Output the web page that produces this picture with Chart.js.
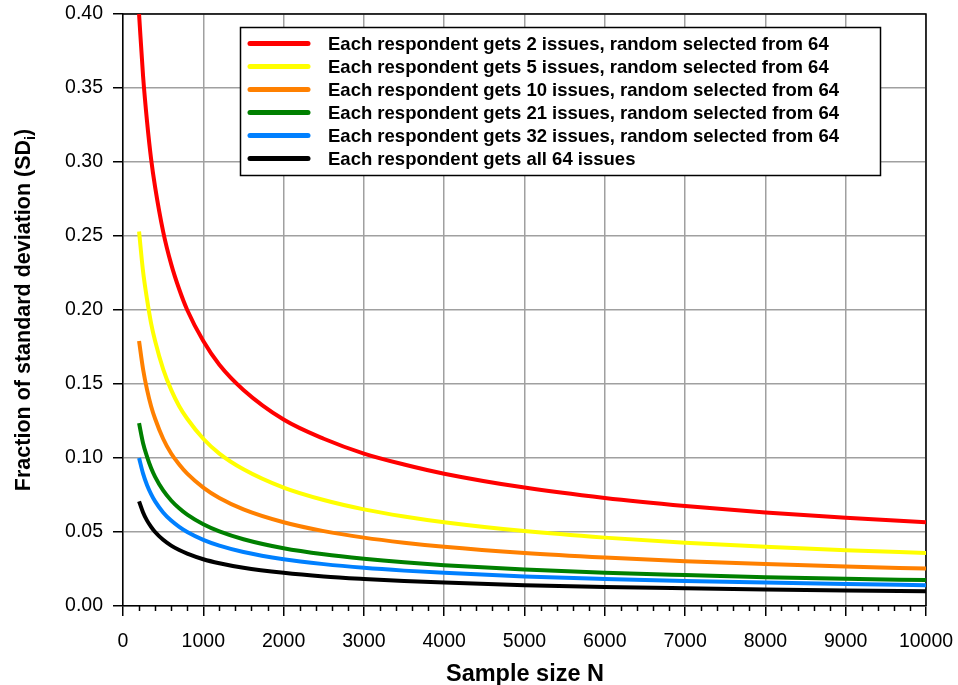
<!DOCTYPE html>
<html>
<head>
<meta charset="utf-8">
<script src="https://cdn.jsdelivr.net/npm/chart.js@4/dist/chart.umd.min.js"></script>
<style>
  html, body { margin: 0; padding: 0; background: #fff; }
  #wrap { width: 958px; height: 685px; position: relative; }
</style>
</head>
<body>
<div id="wrap"><canvas id="c" width="958" height="685"></canvas></div>
<script>
// Sample sizes N at which each curve is given
const sampleSizes = [200, 250, 300, 350, 400, 500, 600, 700, 800, 1000, 1200, 1500, 2000, 2500, 3000, 3500, 4000, 5000, 6000, 7000, 8000, 9000, 10000];

// Fraction of standard deviation for each design
const issues2  = [0.400, 0.358, 0.327, 0.302, 0.283, 0.253, 0.231, 0.214, 0.200, 0.179, 0.163, 0.146, 0.126, 0.113, 0.103, 0.0956, 0.0894, 0.0800, 0.0730, 0.0676, 0.0632, 0.0596, 0.0566];
const issues5  = [0.253, 0.226, 0.207, 0.191, 0.179, 0.160, 0.146, 0.135, 0.1265, 0.113, 0.103, 0.0924, 0.0800, 0.0716, 0.0653, 0.0605, 0.0566, 0.0506, 0.0462, 0.0428, 0.0400, 0.0377, 0.0358];
const issues10 = [0.179, 0.160, 0.146, 0.135, 0.1265, 0.113, 0.103, 0.0956, 0.0894, 0.0800, 0.0730, 0.0653, 0.0566, 0.0506, 0.0462, 0.0428, 0.0400, 0.0358, 0.0327, 0.0302, 0.0283, 0.0267, 0.0253];
const issues21 = [0.1235, 0.110, 0.1008, 0.0933, 0.0873, 0.0781, 0.0713, 0.0660, 0.0617, 0.0552, 0.0504, 0.0451, 0.0390, 0.0349, 0.0319, 0.0295, 0.0276, 0.0247, 0.0225, 0.0209, 0.0195, 0.0184, 0.0175];
const issues32 = [0.100, 0.0894, 0.0816, 0.0756, 0.0707, 0.0632, 0.0577, 0.0535, 0.0500, 0.0447, 0.0408, 0.0365, 0.0316, 0.0283, 0.0258, 0.0239, 0.0224, 0.0200, 0.0183, 0.0169, 0.0158, 0.0149, 0.0141];
const issuesAll = [0.0707, 0.0632, 0.0577, 0.0535, 0.0500, 0.0447, 0.0408, 0.0378, 0.0354, 0.0316, 0.0289, 0.0258, 0.0224, 0.0200, 0.0183, 0.0169, 0.0158, 0.0141, 0.0129, 0.0120, 0.0112, 0.0105, 0.0100];

const seriesLabels = [
  'Each respondent gets 2 issues, random selected from 64',
  'Each respondent gets 5 issues, random selected from 64',
  'Each respondent gets 10 issues, random selected from 64',
  'Each respondent gets 21 issues, random selected from 64',
  'Each respondent gets 32 issues, random selected from 64',
  'Each respondent gets all 64 issues'
];
const seriesValues = [issues2, issues5, issues10, issues21, issues32, issuesAll];
const seriesColors = ['#ff0000', '#ffff00', '#ff8000', '#008000', '#0080ff', '#000000'];

const xTitle = 'Sample size N';
const yTitleMain = 'Fraction of standard deviation (SD';
const yTitleSub = 'i';
const yTitleEnd = ')';

const FONT = '"Liberation Sans", Arial, Helvetica, sans-serif';

const datasets = seriesValues.map((vals, i) => ({
  label: seriesLabels[i],
  data: vals.map((v, j) => ({ x: sampleSizes[j], y: v })),
  borderColor: seriesColors[i],
  backgroundColor: seriesColors[i],
  borderWidth: 4,
  pointRadius: 0,
  cubicInterpolationMode: 'monotone',
  fill: false
}));

// Frame, minor x ticks, legend box and axis titles
const decorations = {
  id: 'decorations',
  beforeDatasetsDraw(chart) {
    const { ctx, chartArea: a, scales } = chart;
    ctx.save();
    // minor ticks on the x axis
    ctx.strokeStyle = '#000';
    ctx.lineWidth = 1.5;
    const xs = scales.x;
    for (let v = 200; v < 10000; v += 200) {
      if (v % 1000 === 0) continue;
      const px = Math.round(xs.getPixelForValue(v)) + 0.5;
      ctx.beginPath();
      ctx.moveTo(px, a.bottom);
      ctx.lineTo(px, a.bottom + 5);
      ctx.stroke();
    }
    // top and right frame
    ctx.beginPath();
    ctx.moveTo(a.left, a.top);
    ctx.lineTo(a.right, a.top);
    ctx.lineTo(a.right, a.bottom);
    ctx.stroke();
    ctx.restore();
  },
  afterDraw(chart) {
    const { ctx } = chart;
    ctx.save();
    // legend
    const bx = 240.5, by = 27.5, bw = 640, bh = 148;
    ctx.fillStyle = '#fff';
    ctx.fillRect(bx, by, bw, bh);
    ctx.strokeStyle = '#000';
    ctx.lineWidth = 1.5;
    ctx.strokeRect(bx, by, bw, bh);
    ctx.font = 'bold 18.5px ' + FONT;
    ctx.textBaseline = 'middle';
    ctx.textAlign = 'left';
    chart.data.datasets.forEach((ds, i) => {
      const cy = 43.5 + i * 23;
      ctx.strokeStyle = ds.borderColor;
      ctx.lineWidth = 5;
      ctx.lineCap = 'round';
      ctx.beginPath();
      ctx.moveTo(250, cy);
      ctx.lineTo(308, cy);
      ctx.stroke();
      ctx.fillStyle = '#000';
      ctx.fillText(ds.label, 328, cy + 1);
    });
    // x title
    ctx.font = 'bold 23.5px ' + FONT;
    ctx.textAlign = 'center';
    ctx.textBaseline = 'alphabetic';
    ctx.fillStyle = '#000';
    ctx.fillText(xTitle, 525, 681);
    // y title with subscript
    ctx.translate(30, 310);
    ctx.rotate(-Math.PI / 2);
    const mainFont = 'bold 21.5px ' + FONT;
    const subFont = 'bold 14px ' + FONT;
    ctx.font = mainFont;
    const w1 = ctx.measureText(yTitleMain).width;
    const w3 = ctx.measureText(yTitleEnd).width;
    ctx.font = subFont;
    const w2 = ctx.measureText(yTitleSub).width;
    const total = w1 + w2 + w3;
    let x0 = -total / 2;
    ctx.textAlign = 'left';
    ctx.font = mainFont;
    ctx.fillText(yTitleMain, x0, 0);
    ctx.font = subFont;
    ctx.fillText(yTitleSub, x0 + w1, 5);
    ctx.font = mainFont;
    ctx.fillText(yTitleEnd, x0 + w1 + w2, 0);
    ctx.restore();
  }
};

new Chart(document.getElementById('c'), {
  type: 'line',
  data: { datasets },
  options: {
    responsive: false,
    animation: false,
    devicePixelRatio: 1,
    layout: { padding: { top: 14, right: 32, left: 0, bottom: 0 } },
    plugins: { legend: { display: false }, tooltip: { enabled: false } },
    scales: {
      x: {
        type: 'linear',
        min: 0,
        max: 10000,
        afterFit(s) {
          s.height = 79;
          s.paddingLeft = 0;
          s.paddingRight = 0;
        },
        ticks: {
          stepSize: 1000,
          color: '#000',
          padding: 14,
          maxRotation: 0,
          callback: v => String(v),
          font: { family: FONT, size: 19.5 }
        },
        grid: { color: '#a0a0a0', lineWidth: 1.5, tickColor: '#000', tickLength: 10, tickWidth: 1.5 },
        border: { color: '#000', width: 1.5 }
      },
      y: {
        type: 'linear',
        min: 0,
        max: 0.4,
        afterFit(s) {
          s.width = 123;
          s.paddingTop = 0;
          s.paddingBottom = 0;
        },
        ticks: {
          stepSize: 0.05,
          color: '#000',
          padding: 10,
          callback: v => v.toFixed(2),
          font: { family: FONT, size: 19.5 }
        },
        grid: { color: '#a0a0a0', lineWidth: 1.5, tickColor: '#000', tickLength: 10, tickWidth: 1.5 },
        border: { color: '#000', width: 1.5 }
      }
    }
  },
  plugins: [decorations]
});
</script>
</body>
</html>
